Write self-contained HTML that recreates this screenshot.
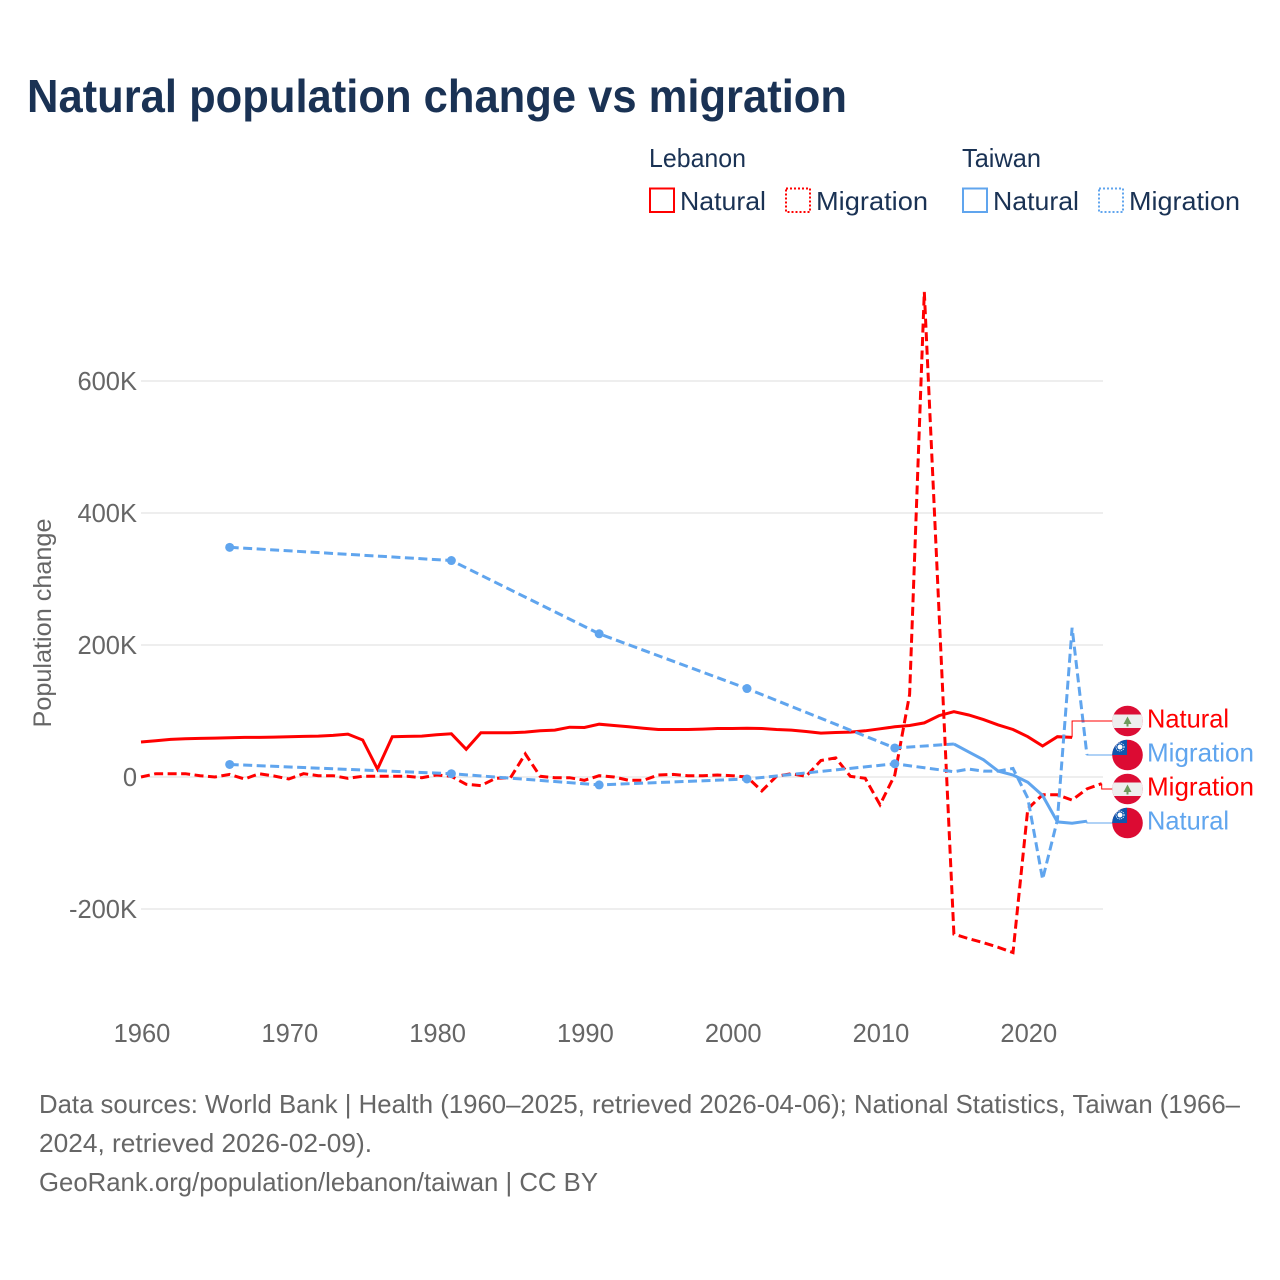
<!DOCTYPE html>
<html lang="en">
<head>
<meta charset="utf-8">
<title>Natural population change vs migration</title>
<style>
html,body{margin:0;padding:0;background:#fff;}
svg{display:block;font-family:"Liberation Sans",sans-serif;}
</style>
</head>
<body>
<svg id="chart" width="1280" height="1280" viewBox="0 0 1280 1280" xmlns="http://www.w3.org/2000/svg">
  <defs>
    <clipPath id="flag-clip"><circle cx="0" cy="0" r="15.3"/></clipPath>
    <g id="flag-lebanon">
      <g clip-path="url(#flag-clip)">
        <rect x="-16" y="-16" width="32" height="32" fill="#dc0d35"/>
        <rect x="-16" y="-6.5" width="32" height="13.5" fill="#eeeeee"/>
        <path d="M0,-4.5 L4,3 L1,3 L1,5.5 L-1,5.5 L-1,3 L-4,3 Z" fill="#6f9a5c"/>
      </g>
    </g>
    <g id="flag-taiwan">
      <g clip-path="url(#flag-clip)">
        <rect x="-16" y="-16" width="32" height="32" fill="#dc0b33"/>
        <rect x="-16" y="-16" width="15.5" height="16" fill="#0f56ae"/>
        <circle cx="-7.5" cy="-8" r="2.5" fill="#fff"/>
        <circle cx="-7.5" cy="-8" r="4" fill="none" stroke="#fff" stroke-width="1" stroke-dasharray="1 1"/>
      </g>
    </g>
  </defs>

  <text x="27" y="112" font-size="46" font-weight="700" fill="#1a3254" textLength="820" lengthAdjust="spacingAndGlyphs">Natural population change vs migration</text>

  <g font-size="26" fill="#1a3254">
    <text x="649" y="167" textLength="97" lengthAdjust="spacingAndGlyphs">Lebanon</text>
    <rect x="650" y="188.5" width="24" height="23.5" fill="none" stroke="#ff0000" stroke-width="2"/>
    <text x="680" y="210" textLength="86" lengthAdjust="spacingAndGlyphs">Natural</text>
    <rect x="786" y="188.5" width="24" height="23.5" fill="none" stroke="#ff0000" stroke-width="2" stroke-dasharray="2 2"/>
    <text x="816" y="210" textLength="112" lengthAdjust="spacingAndGlyphs">Migration</text>
    <text x="962" y="167" textLength="79" lengthAdjust="spacingAndGlyphs">Taiwan</text>
    <rect x="963" y="188.5" width="24" height="23.5" fill="none" stroke="#60a5ee" stroke-width="2"/>
    <text x="993" y="210" textLength="86" lengthAdjust="spacingAndGlyphs">Natural</text>
    <rect x="1099" y="188.5" width="24" height="23.5" fill="none" stroke="#60a5ee" stroke-width="2" stroke-dasharray="2 2"/>
    <text x="1129" y="210" textLength="111" lengthAdjust="spacingAndGlyphs">Migration</text>
  </g>

  <text transform="translate(51,623) rotate(-90)" text-anchor="middle" font-size="25" fill="#666666" textLength="209" lengthAdjust="spacingAndGlyphs">Population change</text>

  <g id="grid"></g>
  <g id="y-ticks"></g>
  <g id="x-ticks"></g>
  <g id="series"></g>
  <g id="end-labels"></g>

  <g font-size="26" fill="#666666">
    <text x="39" y="1113" textLength="1201" lengthAdjust="spacingAndGlyphs">Data sources: World Bank | Health (1960–2025, retrieved 2026-04-06); National Statistics, Taiwan (1966–</text>
    <text x="39" y="1152" textLength="333" lengthAdjust="spacingAndGlyphs">2024, retrieved 2026-02-09).</text>
    <text x="39" y="1191" textLength="559" lengthAdjust="spacingAndGlyphs">GeoRank.org/population/lebanon/taiwan | CC BY</text>
  </g>
</svg>
<script>
// Values in thousands of people
const lebanonYears = [1960,1961,1962,1963,1964,1965,1966,1967,1968,1969,1970,1971,1972,1973,1974,1975,1976,1977,1978,1979,1980,1981,1982,1983,1984,1985,1986,1987,1988,1989,1990,1991,1992,1993,1994,1995,1996,1997,1998,1999,2000,2001,2002,2003,2004,2005,2006,2007,2008,2009,2010,2011,2012,2013,2014,2015,2016,2017,2018,2019,2020,2021,2022,2023,2024,2025];
const lebanonNatural = [53,55,57,58,58.5,59,59.5,60,60,60.5,61,61.5,62,63,65,56,12,61,61.5,62,64,65.5,42,67,67,67,68,70,71,75.5,75,80,78,76,74,72,72,72,72.5,73.5,73.5,74,73.5,72,71,69,66.5,67.5,68,70,73,76,78,82,93,99,94,87,79,72,61,47,61,60];
const lebanonMigration = [0,5,5,5,2,0,4,-3,5,1.5,-3,5,2,2,-2,1,1,1,1,-1,3,1,-11,-13,-2,-1,35,1,-1,-1,-5,2,0,-5,-5,3,4,2,2,3,2,0,-21,1,5,1,25,29,1,-2,-42,3,125,735,248,-238,-245,-251,-258,-266,-48,-27,-27,-35,-18,-10];
const taiwanNaturalYears = [1966,1981,1991,2001,2011,2015,2016,2017,2018,2019,2020,2021,2022,2023,2024];
const taiwanNatural = [348,328,217,134,44,50,38,26,9,3,-8,-28,-68,-70,-67];
const taiwanMigrationYears = [1966,1981,1991,2001,2011,2015,2016,2017,2018,2019,2020,2021,2022,2023,2024];
const taiwanMigration = [19,5,-12,-3,20,8,12,9,9,13,-32,-155,-65,226,34];
const markerYears = [1966,1981,1991,2001,2011];
const yTickValues = [600,400,200,0,-200];
const yTickLabels = ["600K","400K","200K","0","-200K"];
const xTickYears = [1960,1970,1980,1990,2000,2010,2020];

const RED = "#ff0000";
const BLUE = "#60a5ee";
const NS = "http://www.w3.org/2000/svg";
const xScale = function (year) { return 141 + (year - 1960) * 14.78; };
const yScale = function (v) { return 777 - v * 0.66; };
const make = function (tag, parent) {
  const el = document.createElementNS(NS, tag);
  document.getElementById(parent).appendChild(el);
  return el;
};
const pointsOf = function (years, values) {
  const pts = [];
  for (let i = 0; i < years.length && i < values.length; i++) {
    pts.push([xScale(years[i]), yScale(values[i])]);
  }
  return pts;
};
const pathOf = function (pts) {
  return pts.map(function (p, i) { return (i ? "L" : "M") + p[0].toFixed(1) + "," + p[1].toFixed(1); }).join(" ");
};
const drawLine = function (pts, color, dashed, name) {
  const line = make("path", "series");
  
  
  line.setAttribute("d", pathOf(pts));
  line.setAttribute("fill", "none");
  line.setAttribute("stroke", color);
  line.setAttribute("stroke-width", "3");
  line.setAttribute("stroke-linejoin", "miter");
  if (dashed) line.setAttribute("stroke-dasharray", "9 4.5");
};

yTickValues.forEach(function (v, i) {
  const g = make("line", "grid");
  
  
  g.setAttribute("x1", 141);
  g.setAttribute("x2", 1103);
  g.setAttribute("y1", yScale(v));
  g.setAttribute("y2", yScale(v));
  g.setAttribute("stroke", "#e8e8e8");
  g.setAttribute("stroke-width", "1.5");
  const t = make("text", "y-ticks");
  
  
  t.setAttribute("x", 137);
  t.setAttribute("y", yScale(v) + 9);
  t.setAttribute("text-anchor", "end");
  t.setAttribute("font-size", "25.5");
  t.setAttribute("fill", "#666666");
  t.textContent = yTickLabels[i];
});

xTickYears.forEach(function (year) {
  const t = make("text", "x-ticks");
  
  
  t.setAttribute("x", xScale(year) + 1);
  t.setAttribute("y", 1042);
  t.setAttribute("text-anchor", "middle");
  t.setAttribute("font-size", "25.5");
  t.setAttribute("fill", "#666666");
  t.textContent = String(year);
});

const lebNatPts = pointsOf(lebanonYears, lebanonNatural);
const lebMigPts = pointsOf(lebanonYears, lebanonMigration);
const twNatPts = pointsOf(taiwanNaturalYears, taiwanNatural);
const twMigPts = pointsOf(taiwanMigrationYears, taiwanMigration);
const twNatSplit = taiwanNaturalYears.indexOf(2015);

drawLine(lebNatPts, RED, false, "line-lebanon-natural");
drawLine(lebMigPts, RED, true, "line-lebanon-migration");
drawLine(twNatPts.slice(0, twNatSplit + 1), BLUE, true, "line-taiwan-natural-sparse");
drawLine(twNatPts.slice(twNatSplit), BLUE, false, "line-taiwan-natural");
drawLine(twMigPts, BLUE, true, "line-taiwan-migration");

const addMarkers = function (years, values) {
  years.forEach(function (year, i) {
    if (markerYears.indexOf(year) < 0) return;
    const dot = make("circle", "series");
    
    
    dot.setAttribute("cx", xScale(year));
    dot.setAttribute("cy", yScale(values[i]));
    dot.setAttribute("r", "4.5");
    dot.setAttribute("fill", BLUE);
  });
};
addMarkers(taiwanNaturalYears, taiwanNatural);
addMarkers(taiwanMigrationYears, taiwanMigration);

const drawEndLabel = function (pts, slotY, color, flag, label, width, name) {
  const last = pts[pts.length - 1];
  const conn = make("path", "end-labels");
  
  
  conn.setAttribute("d", "M" + last[0].toFixed(1) + "," + last[1].toFixed(1) + " V" + slotY + " H1113");
  conn.setAttribute("fill", "none");
  conn.setAttribute("stroke", color);
  conn.setAttribute("stroke-width", "1");
  const use = make("use", "end-labels");
  
  
  use.setAttribute("href", flag);
  use.setAttribute("transform", "translate(1127.5," + slotY + ")");
  const t = make("text", "end-labels");
  
  
  t.setAttribute("x", 1147);
  t.setAttribute("y", slotY + 6.5);
  t.setAttribute("font-size", "26");
  t.setAttribute("fill", color);
  t.setAttribute("textLength", width);
  t.setAttribute("lengthAdjust", "spacingAndGlyphs");
  t.textContent = label;
};
drawEndLabel(lebNatPts, 721, RED, "#flag-lebanon", "Natural", 82, "end-lebanon-natural");
drawEndLabel(twMigPts, 755, BLUE, "#flag-taiwan", "Migration", 107, "end-taiwan-migration");
drawEndLabel(lebMigPts, 789, RED, "#flag-lebanon", "Migration", 107, "end-lebanon-migration");
drawEndLabel(twNatPts, 823, BLUE, "#flag-taiwan", "Natural", 82, "end-taiwan-natural");
</script>
</body>
</html>
